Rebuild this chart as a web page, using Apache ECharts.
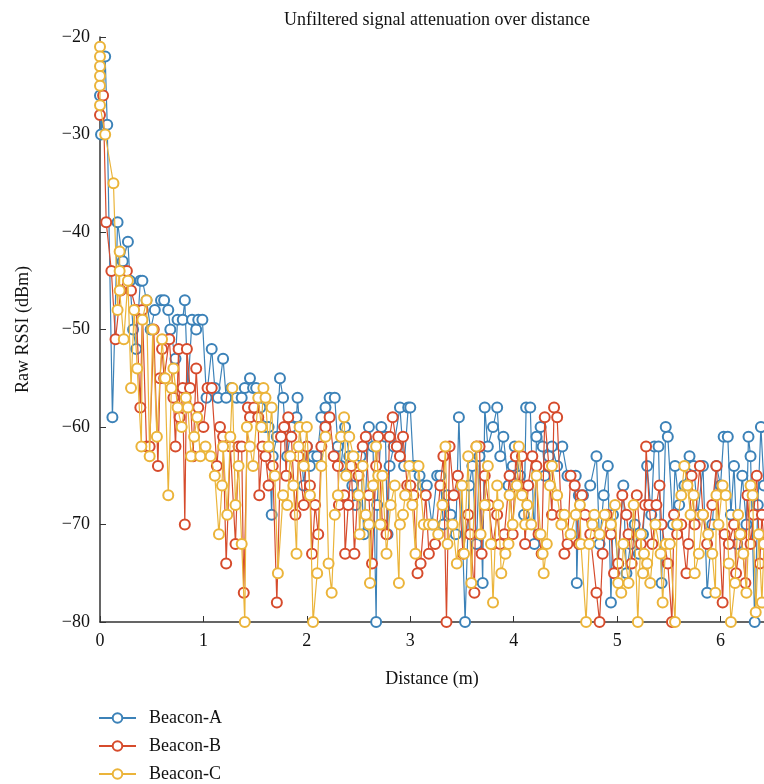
<!DOCTYPE html>
<html><head><meta charset="utf-8">
<script src="https://cdn.jsdelivr.net/npm/echarts@6/dist/echarts.min.js"></script>
<style>html,body{margin:0;padding:0;background:#fff}#c{width:764px;height:784px}</style>
</head><body><div id="c"></div>
<script>
const seriesNames = ['Beacon-A','Beacon-B','Beacon-C'];
const xTicks = [0,1,2,3,4,5,6];
const yTicks = [-80,-70,-60,-50,-40,-30,-20];
// [distance (m), raw RSSI (dBm)]
const beaconA = [[0.00,-26],[0.01,-30],[0.05,-22],[0.07,-29],[0.12,-59],[0.17,-39],[0.22,-43],[0.27,-41],[0.29,-45],[0.32,-50],[0.35,-52],[0.39,-45],[0.41,-45],[0.45,-47],[0.49,-50],[0.53,-48],[0.59,-47],[0.62,-47],[0.66,-48],[0.68,-50],[0.73,-53],[0.75,-49],[0.80,-49],[0.82,-47],[0.85,-56],[0.89,-49],[0.93,-50],[0.95,-49],[0.99,-49],[1.03,-57],[1.08,-52],[1.11,-56],[1.14,-57],[1.19,-53],[1.22,-57],[1.27,-56],[1.32,-57],[1.37,-57],[1.40,-56],[1.45,-55],[1.48,-56],[1.51,-56],[1.55,-58],[1.60,-60],[1.63,-60],[1.66,-69],[1.67,-63],[1.71,-61],[1.74,-55],[1.77,-57],[1.81,-63],[1.85,-60],[1.90,-59],[1.91,-57],[1.97,-66],[2.00,-62],[2.03,-64],[2.06,-63],[2.10,-63],[2.14,-59],[2.18,-58],[2.22,-57],[2.27,-57],[2.30,-62],[2.33,-64],[2.37,-60],[2.41,-63],[2.44,-66],[2.47,-68],[2.52,-63],[2.55,-71],[2.60,-60],[2.64,-62],[2.67,-80],[2.68,-68],[2.72,-60],[2.76,-61],[2.78,-71],[2.80,-64],[2.84,-62],[2.90,-58],[2.94,-64],[2.98,-58],[3.00,-58],[3.03,-64],[3.05,-64],[3.09,-65],[3.12,-66],[3.16,-66],[3.21,-70],[3.26,-65],[3.29,-65],[3.32,-70],[3.36,-67],[3.39,-69],[3.44,-71],[3.47,-59],[3.53,-80],[3.57,-66],[3.60,-64],[3.64,-72],[3.67,-63],[3.70,-76],[3.72,-58],[3.75,-62],[3.80,-60],[3.84,-58],[3.87,-63],[3.90,-61],[3.95,-66],[3.99,-64],[4.01,-62],[4.06,-65],[4.10,-69],[4.12,-58],[4.16,-58],[4.20,-72],[4.22,-61],[4.26,-60],[4.28,-62],[4.30,-65],[4.34,-63],[4.37,-62],[4.42,-64],[4.47,-62],[4.52,-65],[4.56,-65],[4.60,-65],[4.61,-76],[4.63,-67],[4.67,-67],[4.74,-66],[4.80,-63],[4.83,-72],[4.87,-67],[4.91,-64],[4.94,-78],[4.96,-69],[5.01,-74],[5.06,-66],[5.09,-75],[5.13,-72],[5.17,-70],[5.21,-73],[5.25,-71],[5.29,-64],[5.33,-69],[5.36,-62],[5.40,-62],[5.43,-76],[5.47,-60],[5.49,-61],[5.54,-70],[5.56,-64],[5.60,-68],[5.65,-66],[5.70,-63],[5.74,-64],[5.78,-69],[5.83,-64],[5.87,-77],[5.92,-70],[5.96,-64],[6.00,-66],[6.03,-61],[6.07,-61],[6.10,-69],[6.13,-64],[6.16,-72],[6.21,-65],[6.25,-70],[6.27,-61],[6.29,-63],[6.33,-80],[6.36,-68],[6.39,-60],[6.42,-66]];
const beaconB = [[0.00,-28],[0.03,-26],[0.06,-39],[0.11,-44],[0.15,-51],[0.20,-46],[0.26,-44],[0.30,-46],[0.35,-48],[0.39,-58],[0.41,-48],[0.45,-62],[0.48,-62],[0.52,-50],[0.56,-64],[0.58,-55],[0.60,-52],[0.62,-55],[0.67,-51],[0.71,-57],[0.73,-62],[0.76,-52],[0.77,-59],[0.80,-56],[0.82,-70],[0.84,-52],[0.87,-56],[0.90,-63],[0.93,-54],[0.95,-58],[1.00,-60],[1.04,-56],[1.08,-56],[1.13,-64],[1.16,-60],[1.19,-61],[1.22,-74],[1.26,-62],[1.31,-72],[1.34,-62],[1.37,-62],[1.39,-77],[1.43,-58],[1.45,-59],[1.49,-58],[1.53,-59],[1.54,-67],[1.57,-62],[1.60,-63],[1.63,-66],[1.67,-64],[1.71,-78],[1.75,-61],[1.78,-60],[1.80,-65],[1.82,-59],[1.85,-61],[1.89,-69],[1.92,-63],[1.97,-68],[2.00,-62],[2.03,-66],[2.05,-73],[2.08,-68],[2.11,-71],[2.14,-62],[2.18,-60],[2.22,-59],[2.26,-63],[2.30,-64],[2.31,-68],[2.36,-67],[2.37,-73],[2.40,-68],[2.43,-64],[2.46,-73],[2.50,-65],[2.54,-62],[2.57,-61],[2.60,-67],[2.63,-74],[2.67,-64],[2.69,-61],[2.73,-70],[2.77,-71],[2.80,-61],[2.83,-59],[2.87,-62],[2.90,-63],[2.93,-61],[2.97,-66],[3.00,-66],[3.03,-67],[3.07,-75],[3.10,-74],[3.15,-67],[3.18,-73],[3.24,-72],[3.29,-66],[3.32,-63],[3.35,-80],[3.38,-62],[3.42,-67],[3.46,-65],[3.51,-73],[3.56,-69],[3.58,-71],[3.62,-77],[3.64,-62],[3.67,-62],[3.69,-73],[3.72,-65],[3.76,-68],[3.80,-72],[3.84,-69],[3.87,-72],[3.91,-71],[3.96,-65],[3.99,-71],[4.02,-63],[4.05,-66],[4.08,-63],[4.11,-72],[4.14,-66],[4.18,-63],[4.22,-64],[4.24,-71],[4.27,-73],[4.30,-59],[4.34,-64],[4.37,-69],[4.39,-58],[4.42,-59],[4.46,-69],[4.49,-73],[4.52,-72],[4.55,-65],[4.59,-66],[4.63,-72],[4.66,-67],[4.69,-69],[4.74,-71],[4.80,-77],[4.83,-80],[4.86,-73],[4.90,-69],[4.94,-71],[4.97,-75],[5.01,-74],[5.05,-67],[5.09,-69],[5.11,-71],[5.14,-74],[5.19,-67],[5.23,-72],[5.27,-68],[5.28,-62],[5.31,-68],[5.34,-72],[5.38,-68],[5.41,-66],[5.43,-70],[5.49,-74],[5.53,-80],[5.55,-69],[5.58,-71],[5.62,-70],[5.67,-75],[5.69,-72],[5.72,-65],[5.75,-70],[5.80,-64],[5.83,-69],[5.87,-72],[5.92,-68],[5.96,-64],[6.02,-78],[6.04,-71],[6.08,-72],[6.13,-70],[6.15,-75],[6.20,-71],[6.24,-76],[6.26,-67],[6.29,-72],[6.32,-69],[6.35,-65],[6.38,-74],[6.40,-69],[6.42,-72]];
const beaconC = [[0.00,-21],[0.00,-22],[0.00,-23],[0.00,-24],[0.00,-25],[0.00,-27],[0.05,-30],[0.13,-35],[0.17,-48],[0.19,-42],[0.19,-44],[0.19,-46],[0.23,-51],[0.27,-45],[0.30,-56],[0.33,-48],[0.36,-54],[0.40,-62],[0.41,-49],[0.45,-47],[0.48,-63],[0.51,-50],[0.55,-61],[0.60,-51],[0.63,-55],[0.66,-67],[0.69,-56],[0.71,-54],[0.75,-58],[0.79,-60],[0.83,-57],[0.85,-58],[0.88,-63],[0.91,-61],[0.94,-59],[0.97,-63],[1.02,-62],[1.07,-63],[1.11,-65],[1.15,-71],[1.18,-66],[1.19,-62],[1.23,-69],[1.26,-61],[1.28,-56],[1.31,-68],[1.34,-64],[1.37,-72],[1.40,-80],[1.42,-60],[1.45,-62],[1.48,-64],[1.53,-57],[1.56,-60],[1.58,-56],[1.60,-57],[1.63,-62],[1.66,-58],[1.69,-65],[1.72,-75],[1.77,-67],[1.81,-68],[1.84,-63],[1.87,-66],[1.90,-73],[1.92,-62],[1.93,-60],[1.97,-64],[2.00,-60],[2.03,-67],[2.06,-80],[2.10,-75],[2.14,-64],[2.18,-61],[2.21,-74],[2.24,-77],[2.27,-69],[2.30,-67],[2.33,-61],[2.36,-59],[2.38,-65],[2.41,-61],[2.45,-63],[2.50,-67],[2.51,-71],[2.54,-64],[2.57,-69],[2.60,-70],[2.61,-76],[2.64,-66],[2.67,-62],[2.69,-65],[2.71,-70],[2.73,-65],[2.77,-73],[2.81,-68],[2.85,-66],[2.89,-76],[2.90,-70],[2.93,-69],[2.95,-67],[2.99,-64],[3.02,-68],[3.05,-73],[3.08,-64],[3.13,-70],[3.18,-70],[3.22,-70],[3.27,-71],[3.31,-68],[3.34,-62],[3.36,-72],[3.41,-70],[3.45,-74],[3.50,-66],[3.52,-73],[3.56,-63],[3.59,-76],[3.64,-62],[3.68,-71],[3.72,-68],[3.75,-64],[3.78,-72],[3.80,-78],[3.84,-66],[3.85,-68],[3.88,-75],[3.92,-73],[3.95,-72],[3.96,-67],[3.99,-70],[4.03,-66],[4.05,-62],[4.08,-67],[4.11,-70],[4.13,-68],[4.17,-70],[4.22,-65],[4.26,-71],[4.28,-73],[4.29,-75],[4.32,-72],[4.35,-66],[4.37,-64],[4.42,-67],[4.46,-70],[4.49,-69],[4.55,-71],[4.60,-69],[4.64,-68],[4.65,-72],[4.70,-80],[4.73,-72],[4.76,-70],[4.78,-69],[4.83,-71],[4.88,-69],[4.94,-70],[4.98,-68],[5.01,-76],[5.04,-77],[5.06,-72],[5.11,-76],[5.16,-68],[5.20,-80],[5.23,-71],[5.25,-75],[5.26,-73],[5.29,-74],[5.32,-76],[5.37,-70],[5.42,-73],[5.44,-78],[5.47,-72],[5.51,-72],[5.56,-80],[5.58,-70],[5.62,-67],[5.65,-64],[5.68,-66],[5.71,-69],[5.74,-67],[5.75,-75],[5.79,-73],[5.83,-69],[5.88,-71],[5.92,-73],[5.95,-77],[5.96,-67],[5.98,-70],[6.02,-66],[6.05,-67],[6.08,-74],[6.10,-80],[6.14,-76],[6.17,-69],[6.19,-71],[6.22,-73],[6.25,-77],[6.29,-66],[6.31,-67],[6.34,-79],[6.37,-71],[6.40,-78],[6.42,-72]];

const colors = ['#3c82b8','#d64b2c','#ebb43a'];
const FONT = 'Liberation Serif';
const chart = echarts.init(document.getElementById('c'), null, {renderer:'canvas'});
const seriesData = [beaconA, beaconB, beaconC];
chart.setOption({
  animation: false,
  backgroundColor: '#fff',
  color: colors,
  title: {
    text: 'Unfiltered signal attenuation over distance',
    left: 432, top: 6, textAlign: 'center',
    textStyle: {fontFamily: FONT, fontSize: 18, fontWeight: 'normal', color: '#111'}
  },
  legend: {
    orient: 'vertical', left: 98, top: 708, height: 80,
    itemWidth: 37, itemHeight: 12, itemGap: 8, padding: 0,
    textStyle: {fontFamily: FONT, fontSize: 18, lineHeight: 20, color: '#111', padding: [0,0,0,8]},
    data: seriesNames
  },
  grid: {left: 100, right: 0, top: 37, bottom: 162, containLabel: false},
  xAxis: {
    type: 'value', min: 0, max: 6.42, interval: 1,
    name: 'Distance (m)', nameLocation: 'middle', nameGap: 48,
    nameTextStyle: {fontFamily: FONT, fontSize: 18, color: '#111'},
    axisLine: {lineStyle: {color: '#333', width: 1.5}},
    axisTick: {inside: true, length: 6, lineStyle: {color: '#333'}},
    axisLabel: {fontFamily: FONT, fontSize: 18, color: '#111', margin: 10, showMaxLabel: false,
      formatter: v => xTicks.includes(v) ? String(v) : ''},
    splitLine: {show: false}
  },
  yAxis: {
    type: 'value', min: -80, max: -20, interval: 10,
    name: 'Raw RSSI (dBm)', nameLocation: 'middle', nameGap: 68, nameRotate: 90,
    nameTextStyle: {fontFamily: FONT, fontSize: 18, color: '#111'},
    axisLine: {show: true, lineStyle: {color: '#333', width: 1.5}},
    axisTick: {show: true, inside: true, length: 6, lineStyle: {color: '#333'}},
    axisLabel: {fontFamily: FONT, fontSize: 18, color: '#111', margin: 10,
      formatter: v => yTicks.includes(v) ? String(v).replace('-', '\u2212') : ''},
    splitLine: {show: false}
  },
  series: seriesNames.map((n, i) => ({
    name: n, type: 'line', data: seriesData[i],
    symbol: 'emptyCircle', symbolSize: 10, showSymbol: true,
    lineStyle: {width: 1.2, color: colors[i]},
    itemStyle: {color: colors[i], borderWidth: 1.2, borderColor: colors[i]},
    z: 2 + i, clip: true
  }))
});
</script></body></html>
